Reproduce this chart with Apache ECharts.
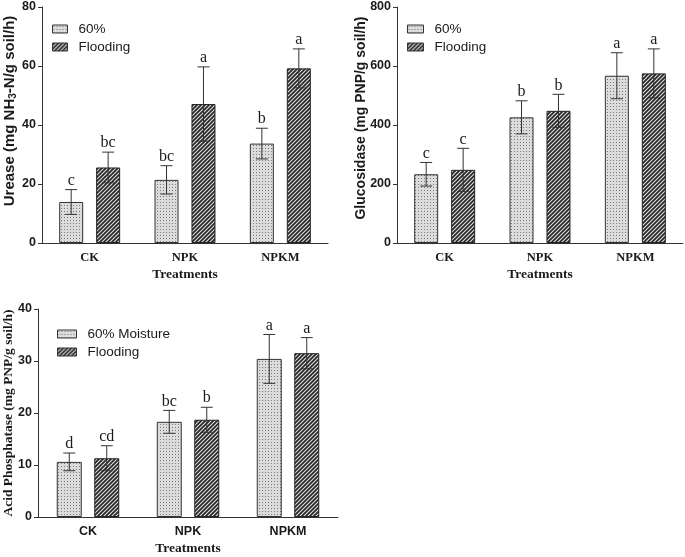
<!DOCTYPE html>
<html>
<head>
<meta charset="utf-8">
<script src="https://cdn.jsdelivr.net/npm/echarts@6/dist/echarts.min.js"></script>
<style>html,body{margin:0;padding:0;background:#fff}#c{width:685px;height:557px}</style>
</head>
<body>
<div id="c"></div>
<script>
const categories = ['CK', 'NPK', 'NPKM'];
const yTicks = { urease: [0, 80, 20], gluc: [0, 800, 200], acid: [0, 40, 10] };

const ureaseMoist = [13.9, 21.4, 33.7];
const ureaseMoistErr = [4.2, 4.8, 5.2];
const ureaseFlood = [25.6, 47.1, 59.2];
const ureaseFloodErr = [5.2, 12.6, 6.6];
const ureaseMoistLetters = ['c', 'bc', 'b'];
const ureaseFloodLetters = ['bc', 'a', 'a'];

const glucMoist = [233, 426, 567];
const glucMoistErr = [40, 56, 78];
const glucFlood = [248, 448, 575];
const glucFloodErr = [73, 56, 83];
const glucMoistLetters = ['c', 'b', 'a'];
const glucFloodLetters = ['c', 'b', 'a'];

const acidMoist = [10.6, 18.3, 30.4];
const acidMoistErr = [1.7, 2.2, 4.7];
const acidFlood = [11.3, 18.7, 31.5];
const acidFloodErr = [2.4, 2.4, 3.0];
const acidMoistLetters = ['d', 'bc', 'a'];
const acidFloodLetters = ['cd', 'b', 'a'];

function dotPattern() {
  const c = document.createElement('canvas'); c.width = 3; c.height = 3;
  const x = c.getContext('2d');
  x.fillStyle = '#dcdcdc'; x.fillRect(0, 0, 3, 3);
  x.fillStyle = '#7a7a7a'; x.fillRect(1, 1, 1, 1);
  return c;
}
function hatchPattern() {
  const c = document.createElement('canvas'); c.width = 4; c.height = 4;
  const x = c.getContext('2d');
  x.fillStyle = '#262626'; x.fillRect(0, 0, 4, 4);
  x.strokeStyle = '#e2e2e2'; x.lineWidth = 1.1;
  x.beginPath();
  x.moveTo(-1, 5); x.lineTo(5, -1);
  x.moveTo(-3, 3); x.lineTo(3, -3);
  x.moveTo(1, 7); x.lineTo(7, 1);
  x.stroke();
  return c;
}
const dotFill = { image: dotPattern(), repeat: 'repeat' };
const hatchFill = { image: hatchPattern(), repeat: 'repeat' };

const INK = '#1a1a1a';
const SANS = '"Liberation Sans", Arial, sans-serif';
const SERIF = '"Liberation Serif", "Times New Roman", serif';

const panels = [
  { grid: { left: 42, top: 7, width: 286, height: 236 }, ticks: yTicks.urease, bw: 24, gap: 0.54,
    m: ureaseMoist, me: ureaseMoistErr, f: ureaseFlood, fe: ureaseFloodErr, ml: ureaseMoistLetters, fl: ureaseFloodLetters,
    names: ['60%', 'Flooding'], catFont: SERIF, legend: { left: 52, top: 22 }, iconW: 15 },
  { grid: { left: 397, top: 7, width: 286, height: 236 }, ticks: yTicks.gluc, bw: 24, gap: 0.54,
    m: glucMoist, me: glucMoistErr, f: glucFlood, fe: glucFloodErr, ml: glucMoistLetters, fl: glucFloodLetters,
    names: ['60%', 'Flooding'], catFont: SERIF, legend: { left: 407, top: 22 }, iconW: 16 },
  { grid: { left: 38, top: 309, width: 300, height: 209 }, ticks: yTicks.acid, bw: 25, gap: 0.5,
    m: acidMoist, me: acidMoistErr, f: acidFlood, fe: acidFloodErr, ml: acidMoistLetters, fl: acidFloodLetters,
    names: ['60% Moisture', 'Flooding'], catFont: SANS, legend: { left: 57, top: 327 }, iconW: 19 }
];

const option = { animation: false, grid: [], xAxis: [], yAxis: [], series: [], legend: [], graphic: [] };

panels.forEach((p, i) => {
  option.grid.push(Object.assign({ containLabel: false }, p.grid));
  option.xAxis.push({
    type: 'category', gridIndex: i, data: categories,
    axisLine: { lineStyle: { color: '#333', width: 1 } },
    axisTick: { alignWithLabel: true, length: 4, lineStyle: { color: '#333' } },
    axisLabel: { fontFamily: p.catFont, fontWeight: 'bold', fontSize: 12.5, color: INK, margin: 8 },
    name: 'Treatments', nameLocation: 'middle', nameGap: 25,
    nameTextStyle: { fontFamily: SERIF, fontWeight: 'bold', fontSize: 13.5, color: INK }
  });
  option.yAxis.push({
    type: 'value', gridIndex: i, min: p.ticks[0], max: p.ticks[1], interval: p.ticks[2],
    axisLine: { show: true, lineStyle: { color: '#333', width: 1 } },
    axisTick: { show: true, length: 4, lineStyle: { color: '#333' } },
    splitLine: { show: false },
    axisLabel: { fontFamily: SANS, fontWeight: 'bold', fontSize: 12.5, color: INK, margin: 6 }
  });
  const barBase = { type: 'bar', xAxisIndex: i, yAxisIndex: i, barWidth: p.bw, barGap: (p.gap * 100) + '%' };
  option.series.push(Object.assign({}, barBase, { name: p.names[0], data: p.m,
    itemStyle: { color: dotFill, borderColor: '#333', borderWidth: 1 } }));
  option.series.push(Object.assign({}, barBase, { name: p.names[1], data: p.f,
    itemStyle: { color: hatchFill, borderColor: '#222', borderWidth: 1 } }));
  const off = p.bw * (1 + p.gap) / 2;
  [[p.m, p.me, p.ml, -off], [p.f, p.fe, p.fl, off]].forEach(([vals, errs, letters, dx]) => {
    option.series.push({
      type: 'custom', xAxisIndex: i, yAxisIndex: i, z: 5,
      data: vals.map((v, k) => [k, v, errs[k]]),
      renderItem: (params, api) => {
        const k = api.value(0), v = api.value(1), e = api.value(2);
        const x = api.coord([k, v])[0] + dx;
        const top = api.coord([k, v + e])[1];
        const bot = api.coord([k, v - e])[1];
        const cap = 6;
        const ls = { stroke: '#333', lineWidth: 1 };
        return { type: 'group', children: [
          { type: 'line', shape: { x1: x, y1: top, x2: x, y2: bot }, style: ls },
          { type: 'line', shape: { x1: x - cap, y1: top, x2: x + cap, y2: top }, style: ls },
          { type: 'line', shape: { x1: x - cap, y1: bot, x2: x + cap, y2: bot }, style: ls },
          { type: 'text', style: { text: letters[params.dataIndex], x: x, y: top - 1,
            align: 'center', verticalAlign: 'bottom', fontFamily: SERIF, fontSize: 16, fill: INK } }
        ] };
      }
    });
  });
  option.legend.push({
    orient: 'vertical', left: p.legend.left, top: p.legend.top, padding: 0, itemGap: 4,
    itemWidth: p.iconW, itemHeight: 8, icon: 'rect',
    data: p.names, selectedMode: false,
    textStyle: { fontFamily: SANS, fontSize: 13.5, color: INK, padding: [0, 0, 0, 6] },
    itemStyle: { borderColor: '#333', borderWidth: 1 }
  });
});

// Y axis titles
option.graphic = [
  { type: 'text', x: 10, y: 111, rotation: Math.PI / 2,
    style: { text: '{a|Urease (mg NH}{s|3}{a|-N/g soil/h)}', align: 'center', verticalAlign: 'middle',
      rich: { a: { fontFamily: SANS, fontWeight: 'bold', fontSize: 15, lineHeight: 17, fill: INK, color: INK },
              s: { fontFamily: SANS, fontWeight: 'bold', fontSize: 10, lineHeight: 10, verticalAlign: 'bottom', fill: INK, color: INK } } } },
  { type: 'text', x: 361, y: 118, rotation: Math.PI / 2,
    style: { text: 'Glucosidase (mg PNP/g soil/h)', align: 'center', verticalAlign: 'middle',
      fontFamily: SANS, fontWeight: 'bold', fontSize: 14, fill: INK } },
  { type: 'text', x: 9, y: 413, rotation: Math.PI / 2,
    style: { text: 'Acid Phosphatase (mg PNP/g soil/h)', align: 'center', verticalAlign: 'middle',
      fontFamily: SERIF, fontWeight: 'bold', fontSize: 13.5, fill: INK } }
];

const chart = echarts.init(document.getElementById('c'), null, { renderer: 'canvas' });
chart.setOption(option);
</script>
</body>
</html>
